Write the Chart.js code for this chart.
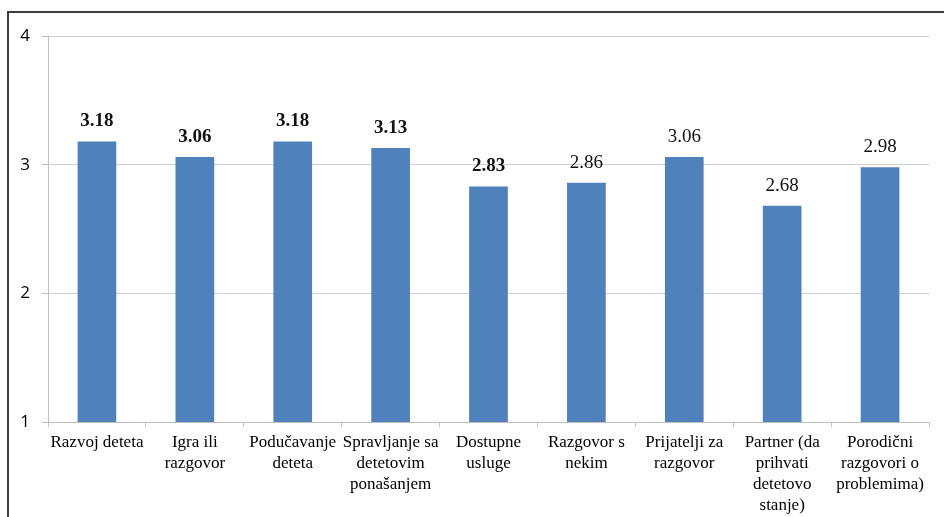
<!DOCTYPE html>
<html>
<head>
<meta charset="utf-8">
<style>
  html, body { margin: 0; padding: 0; background: #fff; }
  #wrap { position: relative; width: 944px; height: 517px; }
</style>
<script src="https://cdn.jsdelivr.net/npm/chart.js@4/dist/chart.umd.min.js"></script>
</head>
<body>
<div id="wrap"><canvas id="c" width="944" height="517"></canvas></div>
<script>
// Categories (multi-line labels as arrays)
const categories = [
  ["Razvoj deteta"],
  ["Igra ili", "razgovor"],
  ["Podučavanje", "deteta"],
  ["Spravljanje sa", "detetovim", "ponašanjem"],
  ["Dostupne", "usluge"],
  ["Razgovor s", "nekim"],
  ["Prijatelji za", "razgovor"],
  ["Partner (da", "prihvati", "detetovo", "stanje)"],
  ["Porodični", "razgovori o", "problemima)"]
];
// Mean scores
const scores = [3.18, 3.06, 3.18, 3.13, 2.83, 2.86, 3.06, 2.68, 2.98];
// Which value labels are printed in bold
const boldLabels = [true, true, true, true, true, false, false, false, false];
// Y-axis range and tick values
const yTicks = [1, 2, 3, 4];

const SERIF = "'Liberation Serif', serif";

// Frame drawn along the top and left edges
const framePlugin = {
  id: 'frame',
  afterDraw(chart) {
    const ctx = chart.ctx;
    ctx.save();
    ctx.strokeStyle = '#3c3c3c';
    ctx.lineWidth = 2;
    ctx.beginPath();
    ctx.moveTo(8, 517);
    ctx.lineTo(8, 12);
    ctx.lineTo(944, 12);
    ctx.stroke();
    ctx.restore();
  }
};

// Value labels above each bar
const valueLabels = {
  id: 'valueLabels',
  afterDatasetsDraw(chart) {
    const ctx = chart.ctx;
    const meta = chart.getDatasetMeta(0);
    ctx.save();
    ctx.fillStyle = '#111';
    ctx.textAlign = 'center';
    ctx.textBaseline = 'middle';
    meta.data.forEach((bar, i) => {
      ctx.font = (boldLabels[i] ? 'bold ' : '') + '19px ' + SERIF;
      ctx.fillText(scores[i].toFixed(2), bar.x, bar.y - 20);
    });
    ctx.restore();
  }
};

new Chart(document.getElementById('c'), {
  type: 'bar',
  data: {
    labels: categories,
    datasets: [{
      data: scores,
      backgroundColor: '#4F81BD',
      borderWidth: 0,
      barPercentage: 0.395,
      categoryPercentage: 1.0
    }]
  },
  options: {
    responsive: false,
    animation: false,
    layout: { padding: { left: 0, right: 15, top: 36, bottom: 0 } },
    plugins: { legend: { display: false }, tooltip: { enabled: false } },
    scales: {
      x: {
        offset: true,
        grid: {
          offset: true,
          drawOnChartArea: false,
          color: '#bfbfbf',
          tickLength: 5
        },
        border: { color: '#bfbfbf', width: 1 },
        ticks: {
          color: '#000',
          padding: 5,
          maxRotation: 0,
          autoSkip: false,
          font: { family: SERIF, size: 17, lineHeight: 1.24 }
        },
        afterFit(s) { s.height = 95; }
      },
      y: {
        min: yTicks[0],
        max: yTicks[yTicks.length - 1],
        afterBuildTicks(s) { s.ticks = yTicks.map(v => ({ value: v })); },
        grid: {
          color: '#d0d0d0',
          tickColor: '#bfbfbf',
          tickLength: 6
        },
        border: { color: '#bfbfbf', width: 1 },
        ticks: {
          color: '#000',
          padding: 12,
          font: { family: "'Open Sans', sans-serif", size: 17 }
        },
        afterFit(s) { s.width = 48; }
      }
    }
  },
  plugins: [framePlugin, valueLabels]
});
</script>
</body>
</html>
